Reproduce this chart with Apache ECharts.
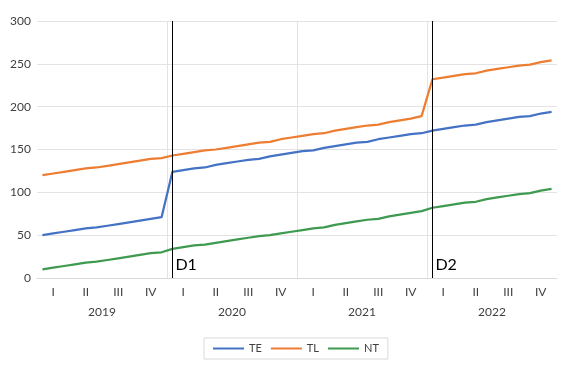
<!DOCTYPE html>
<html><head><meta charset="utf-8">
<script src="https://cdn.jsdelivr.net/npm/echarts@6/dist/echarts.min.js"></script>
<style>html,body{margin:0;padding:0;background:#fff}#c{width:566px;height:366px}</style>
</head><body><div id="c"></div>
<script>
const years = ['2019','2020','2021','2022'];
const quarters = ['I','II','III','IV'];
const months = [];
years.forEach(y => { for (let m = 1; m <= 12; m++) months.push(y + '-' + (m < 10 ? '0' + m : m)); });
const quarterLabels = [].concat(quarters, quarters, quarters, quarters);

const TE = [50,52,54,56,58,59,61,63,65,67,69,71,
            124,126,128,129,132,134,136,138,139,142,144,146,
            148,149,152,154,156,158,159,162,164,166,168,169,
            172,174,176,178,179,182,184,186,188,189,192,194];
const TL = [120,122,124,126,128,129,131,133,135,137,139,140,
            143,145,147,149,150,152,154,156,158,159,162,164,
            166,168,169,172,174,176,178,179,182,184,186,189,
            232,234,236,238,239,242,244,246,248,249,252,254];
const NT = [10,12,14,16,18,19,21,23,25,27,29,30,
            34,36,38,39,41,43,45,47,49,50,52,54,
            56,58,59,62,64,66,68,69,72,74,76,78,
            82,84,86,88,89,92,94,96,98,99,102,104];
const events = [{name:'D1', at:'2020-01'}, {name:'D2', at:'2022-01'}];

const FONT = 'Lato';
const chart = echarts.init(document.getElementById('c'));
chart.setOption({
  animation: false,
  textStyle: {fontFamily: FONT},
  grid: {left: 37, right: 9, top: 21, bottom: 88},
  xAxis: [
    {type: 'category', data: months, boundaryGap: true,
     axisLabel: {show: false}, axisTick: {show: false},
     axisLine: {show: true, lineStyle: {color: '#d9d9d9'}}, splitLine: {show: false}},
    {type: 'category', data: quarterLabels, position: 'bottom', boundaryGap: true,
     axisLabel: {show: true, margin: 8, fontSize: 12, color: '#404040', fontFamily: FONT, interval: 0},
     axisTick: {show: false}, axisLine: {show: false}, splitLine: {show: false}},
    {type: 'category', data: years, position: 'bottom', boundaryGap: true,
     axisLabel: {show: true, margin: 28, fontSize: 12, color: '#404040', fontFamily: FONT, interval: 0},
     axisTick: {show: false}, axisLine: {show: false},
     splitLine: {show: true, interval: 0, showMinLine: false, showMaxLine: false, lineStyle: {color: '#e3e3e3', width: 1}}}
  ],
  yAxis: {type: 'value', min: 0, max: 300, interval: 50,
    axisLabel: {fontSize: 12, color: '#404040', margin: 6, fontFamily: FONT},
    axisLine: {show: false}, axisTick: {show: false},
    splitLine: {lineStyle: {color: '#e3e3e3'}}},
  legend: {bottom: 7, left: 204, data: ['TE','TL','NT'],
    icon: 'rect', itemWidth: 31, itemHeight: 2, itemGap: 9,
    borderColor: '#d9d9d9', borderWidth: 1, padding: [5, 9],
    textStyle: {fontSize: 11, color: '#404040', fontFamily: FONT}},
  series: [
    {name: 'TE', type: 'line', data: TE, xAxisIndex: 0, symbol: 'none',
     lineStyle: {width: 2.25, color: '#4472C4'}, itemStyle: {color: '#4472C4'},
     markLine: {silent: true, symbol: 'none', label: {show: false},
       lineStyle: {color: '#000', width: 1, type: 'solid'},
       data: events.map(e => ({xAxis: e.at}))},
     markPoint: {symbol: 'circle', symbolSize: 0,
       label: {show: true, position: 'right', distance: 3, fontSize: 16, color: '#000', fontFamily: FONT,
         formatter: p => p.name},
       data: events.map(e => ({name: e.name, coord: [e.at, 15]}))}},
    {name: 'TL', type: 'line', data: TL, xAxisIndex: 0, symbol: 'none',
     lineStyle: {width: 2.25, color: '#ED7D31'}, itemStyle: {color: '#ED7D31'}},
    {name: 'NT', type: 'line', data: NT, xAxisIndex: 0, symbol: 'none',
     lineStyle: {width: 2.25, color: '#3E9A4F'}, itemStyle: {color: '#3E9A4F'}}
  ]
});
</script></body></html>
